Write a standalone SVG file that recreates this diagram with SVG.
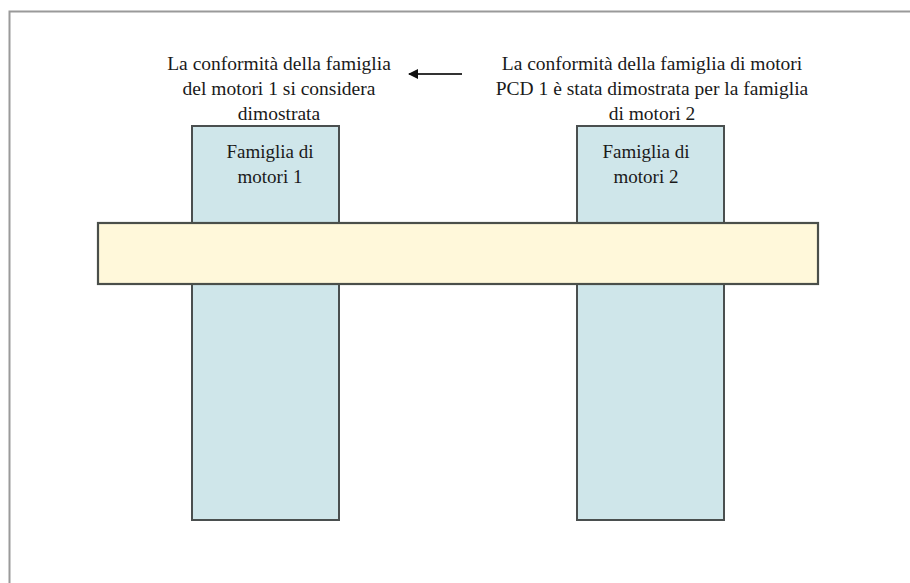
<svg xmlns="http://www.w3.org/2000/svg" width="910" height="583" viewBox="0 0 910 583">
<style>
.t{font-family:"Liberation Serif","DejaVu Serif",serif;font-size:19.5px;fill:#1a1a1a;text-anchor:middle}
.b{font-size:19px}
.col{fill:#cfe6ea;stroke:#4a4f4f;stroke-width:2}
.bar{fill:#fff8da;stroke:#4a4f4a;stroke-width:2.2}
</style>
<defs>
<marker id="ah" viewBox="0 0 10 10" refX="9" refY="5" markerWidth="5" markerHeight="5" orient="auto"><path d="M0,0 L10,5 L0,10 z" fill="#111"/></marker>
</defs>
<rect x="0" y="0" width="910" height="583" fill="#fff"/>
<path d="M9.5,600 L9.5,11.5 L920,11.5" fill="none" stroke="#9a9a9a" stroke-width="2"/>
<g id="famiglia1">
<rect class="col" x="192" y="126" width="147" height="394"/>
<text class="t b" x="270" y="158">Famiglia di</text>
<text class="t b" x="270" y="183">motori 1</text>
</g>
<g id="famiglia2">
<rect class="col" x="577" y="126" width="147" height="394"/>
<text class="t b" x="646" y="158">Famiglia di</text>
<text class="t b" x="646" y="183">motori 2</text>
</g>
<g id="barra">
<rect class="bar" x="98" y="223" width="720" height="61"/>
</g>
<g id="testo1">
<text class="t" x="279" y="70">La conformità della famiglia</text>
<text class="t" x="279" y="95">del motori 1 si considera</text>
<text class="t" x="279" y="120">dimostrata</text>
</g>
<g id="testo2">
<text class="t" x="652" y="70">La conformità della famiglia di motori</text>
<text class="t" x="652" y="95">PCD 1 è stata dimostrata per la famiglia</text>
<text class="t" x="652" y="120">di motori 2</text>
</g>
<g id="connettori">
<line x1="462" y1="74" x2="409" y2="74" stroke="#333" stroke-width="2" marker-end="url(#ah)"/>
</g>
</svg>
